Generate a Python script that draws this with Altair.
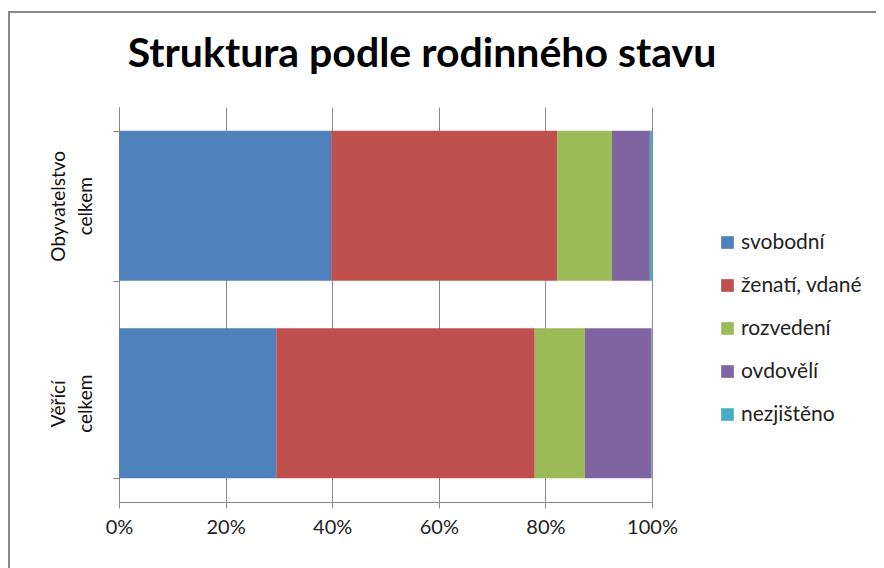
import altair as alt
import pandas as pd

categories = ["Obyvatelstvo celkem", "Věřící celkem"]
statuses = ["svobodní", "ženatí, vdané", "rozvedení", "ovdovělí", "nezjištěno"]
obyvatelstvo = [39.8, 42.4, 10.3, 7.1, 0.4]
verici = [29.5, 48.5, 9.4, 12.5, 0.1]
colors = ["#4F81BD", "#C0504D", "#9BBB59", "#8064A2", "#4BACC6"]
title_text = ["Struktura podle rodinného stavu"]

rows = []
for cat, vals in zip(categories, [obyvatelstvo, verici]):
    for i, (s, v) in enumerate(zip(statuses, vals)):
        rows.append({"kategorie": cat, "stav": s, "hodnota": v, "poradi": i})
df = pd.DataFrame(rows)

FONT = "Lato"
GRID = "#8a8a8a"

bars = alt.Chart(df).mark_bar().encode(
    x=alt.X("hodnota:Q", stack="normalize",
            scale=alt.Scale(domain=[0, 1], nice=False),
            axis=alt.Axis(values=[0, 0.2, 0.4, 0.6, 0.8, 1.0], format=".0%",
                          title=None, grid=True, gridColor=GRID, gridWidth=1,
                          domainColor=GRID, tickColor=GRID, tickSize=6,
                          labelFont=FONT, labelFontSize=20, labelColor="#222",
                          labelPadding=9, labelFlush=False)),
    y=alt.Y("kategorie:N", sort=categories,
            scale=alt.Scale(paddingInner=0.24, paddingOuter=0.12),
            axis=alt.Axis(title=None, labelAngle=-90, labelAlign="center",
                          labelBaseline="bottom",
                          labelExpr="split(datum.label, ' ')",
                          labelFont=FONT, labelFontSize=19, labelLineHeight=27,
                          labelColor="#111", labelPadding=45,
                          tickBand="extent", tickSize=6, tickColor=GRID,
                          domainColor=GRID, grid=False)),
    color=alt.Color("stav:N", sort=statuses,
                    scale=alt.Scale(domain=statuses, range=colors),
                    legend=alt.Legend(title=None, orient="none", legendX=598, legendY=125,
                                      symbolType="square", symbolSize=160,
                                      symbolStrokeWidth=0, symbolOpacity=1,
                                      labelFont=FONT, labelFontSize=21, labelColor="#222",
                                      rowPadding=21, labelOffset=3)),
    order=alt.Order("poradi:Q", sort="ascending"),
)

frame_df = pd.DataFrame({"f": [1]})
frame = alt.Chart(frame_df).mark_rect(
    fill=None, stroke="#888888", strokeWidth=2, clip=False
).encode(
    x=alt.value(-110), x2=alt.value(761),
    y=alt.value(-95), y2=alt.value(500),
)

title = alt.Chart(pd.DataFrame({"t": title_text})).mark_text(
    font=FONT, fontSize=41, fontWeight="bold", color="#000",
    align="center", baseline="alphabetic", clip=False
).encode(
    text="t:N", x=alt.value(303), y=alt.value(-40),
)

chart = alt.layer(frame, bars, title).properties(
    width=533, height=395,
    autosize=alt.AutoSizeParams(type="none"),
    padding={"left": 111, "top": 99, "right": 224, "bottom": 80},
).configure_view(stroke=None)

chart.save("out.html", embed_options={"renderer": "svg", "actions": False})
